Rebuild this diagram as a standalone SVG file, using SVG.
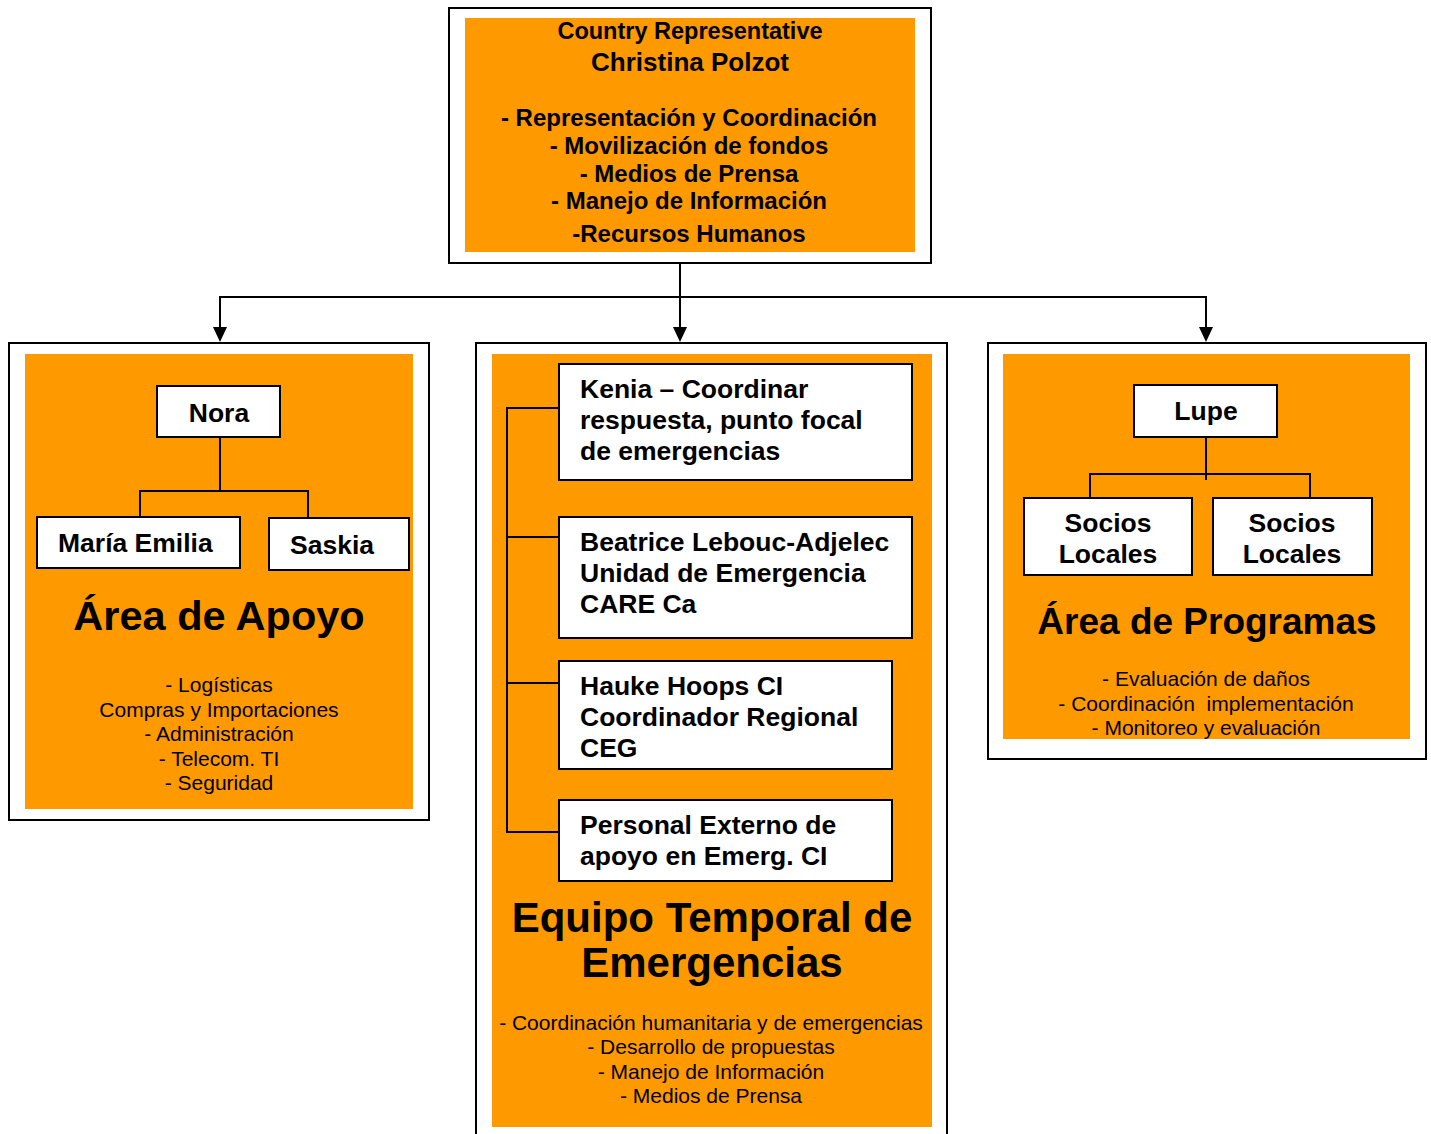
<svg xmlns="http://www.w3.org/2000/svg" width="1431" height="1134" viewBox="0 0 1431 1134">
<style>
.frame{fill:#fff;stroke:#000;stroke-width:2}
.panel{fill:#FF9900}
.box{fill:#fff;stroke:#000;stroke-width:2}
.ln{fill:none;stroke:#000;stroke-width:2}
.ah{fill:#000}
text{font-family:"Liberation Sans",Arial,sans-serif;fill:#000}
.b{font-weight:bold}
.n{font-size:26.5px;font-weight:bold}
.c{text-anchor:middle}
.big{font-size:42px;font-weight:bold;text-anchor:middle}
.lst{font-size:21px;text-anchor:middle;white-space:pre}
.top{font-size:24px;font-weight:bold;text-anchor:middle}
</style>
<g id="connectors">
<path class="ln" d="M680 264 V327"/>
<path class="ln" d="M680 297 H220 V327"/>
<path class="ln" d="M680 297 H1206 V327"/>
<path class="ah" d="M673 327 H687 L680 342 Z"/>
<path class="ah" d="M213 327 H227 L220 342 Z"/>
<path class="ah" d="M1199 327 H1213 L1206 342 Z"/>
</g>
<g id="country-representative">
<rect class="frame" x="449" y="8" width="482" height="255"/>
<rect class="panel" x="465" y="18" width="450" height="234"/>
<text class="b c" x="690" y="39" font-size="23.5">Country Representative</text>
<text class="b c" x="690" y="71" font-size="26">Christina Polzot</text>
<text class="top" x="689" y="126">- Representación y Coordinación</text>
<text class="top" x="689" y="154">- Movilización de fondos</text>
<text class="top" x="689" y="182">- Medios de Prensa</text>
<text class="top" x="689" y="209">- Manejo de Información</text>
<text class="top" x="689" y="242">-Recursos Humanos</text>
</g>
<g id="area-apoyo">
<rect class="frame" x="9" y="343" width="420" height="477"/>
<rect class="panel" x="25" y="354" width="388" height="455"/>
<text class="big" x="219" y="630" style="font-size:41.5px">Área de Apoyo</text>
<text class="lst" x="219" y="692">- Logísticas</text>
<text class="lst" x="219" y="717">Compras y Importaciones</text>
<text class="lst" x="219" y="741">- Administración</text>
<text class="lst" x="219" y="766">- Telecom. TI</text>
<text class="lst" x="219" y="790">- Seguridad</text>
<path class="ln" d="M220 437 V491 M140 517 V491 H308 V518"/>
</g>
<g id="nora">
<rect class="box" x="157" y="386" width="123" height="51"/>
<text class="n c" x="219" y="422">Nora</text>
</g>
<g id="maria-emilia">
<rect class="box" x="37" y="517" width="203" height="51"/>
<text class="n" x="58" y="552">María Emilia</text>
</g>
<g id="saskia">
<rect class="box" x="269" y="518" width="140" height="52"/>
<text class="n" x="290" y="554">Saskia</text>
</g>
<g id="equipo-temporal">
<rect class="frame" x="476" y="343" width="471" height="800"/>
<rect class="panel" x="492" y="354" width="440" height="773"/>
<path class="ln" d="M559 408 H507 V832 H559 M507 537 H559 M507 683 H559"/>
<text class="big" x="712" y="932">Equipo Temporal de</text>
<text class="big" x="712" y="977">Emergencias</text>
<text class="lst" x="711" y="1030">- Coordinación humanitaria y de emergencias</text>
<text class="lst" x="711" y="1054">- Desarrollo de propuestas</text>
<text class="lst" x="711" y="1079">- Manejo de Información</text>
<text class="lst" x="711" y="1103">- Medios de Prensa</text>
</g>
<g id="kenia">
<rect class="box" x="559" y="364" width="353" height="116"/>
<text class="n" x="580" y="398">Kenia – Coordinar</text>
<text class="n" x="580" y="429">respuesta, punto focal</text>
<text class="n" x="580" y="460">de emergencias</text>
</g>
<g id="beatrice">
<rect class="box" x="559" y="517" width="353" height="121"/>
<text class="n" x="580" y="551">Beatrice Lebouc-Adjelec</text>
<text class="n" x="580" y="582">Unidad de Emergencia</text>
<text class="n" x="580" y="613">CARE Ca</text>
</g>
<g id="hauke">
<rect class="box" x="559" y="661" width="333" height="108"/>
<text class="n" x="580" y="695">Hauke Hoops CI</text>
<text class="n" x="580" y="726">Coordinador Regional</text>
<text class="n" x="580" y="757">CEG</text>
</g>
<g id="personal-externo">
<rect class="box" x="559" y="800" width="333" height="81"/>
<text class="n" x="580" y="834">Personal Externo de</text>
<text class="n" x="580" y="865">apoyo en Emerg. CI</text>
</g>
<g id="area-programas">
<rect class="frame" x="988" y="343" width="438" height="416"/>
<rect class="panel" x="1003" y="354" width="407" height="385"/>
<path class="ln" d="M1206 437 V480 M1090 498 V474 H1310 V498"/>
<text class="big" x="1207" y="634" style="font-size:37px">Área de Programas</text>
<text class="lst" x="1206" y="686">- Evaluación de daños</text>
<text class="lst" x="1206" y="711">- Coordinación  implementación</text>
<text class="lst" x="1206" y="735">- Monitoreo y evaluación</text>
</g>
<g id="lupe">
<rect class="box" x="1134" y="385" width="143" height="52"/>
<text class="n c" x="1206" y="420">Lupe</text>
</g>
<g id="socios-1">
<rect class="box" x="1024" y="498" width="168" height="77"/>
<text class="n c" x="1108" y="532">Socios</text>
<text class="n c" x="1108" y="563">Locales</text>
</g>
<g id="socios-2">
<rect class="box" x="1213" y="498" width="159" height="77"/>
<text class="n c" x="1292" y="532">Socios</text>
<text class="n c" x="1292" y="563">Locales</text>
</g>
</svg>
